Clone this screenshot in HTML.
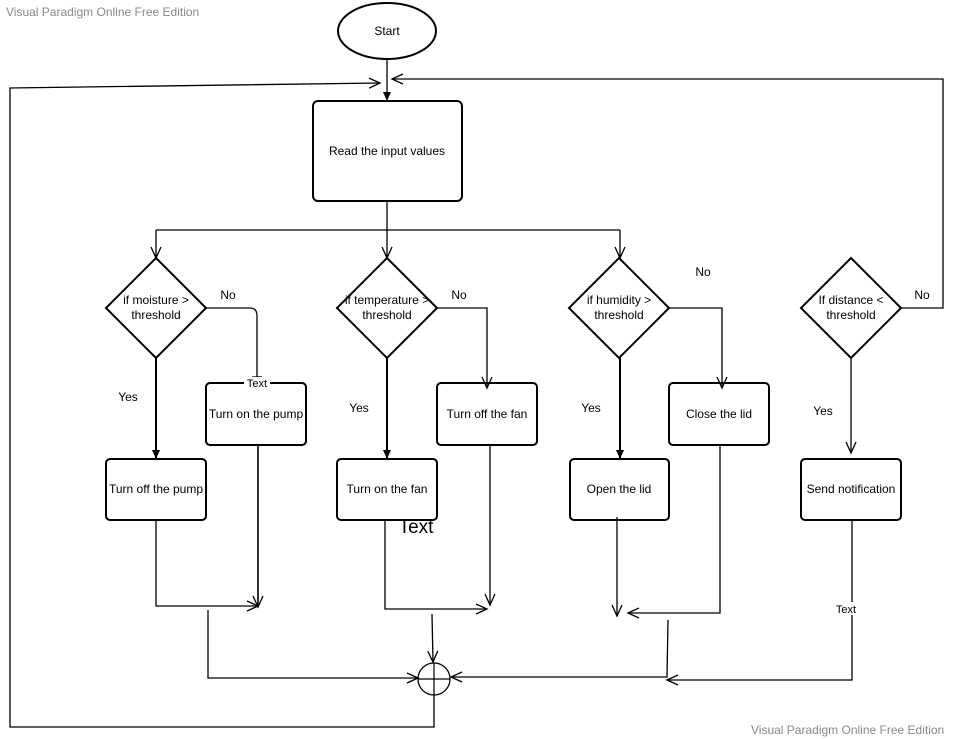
<!DOCTYPE html>
<html><head><meta charset="utf-8"><style>
html,body{margin:0;padding:0;background:#fff;}
svg{display:block;font-family:"Liberation Sans",Arial,sans-serif;}
</style></head><body>
<svg width="955" height="739" viewBox="0 0 955 739" xmlns="http://www.w3.org/2000/svg">
<defs>
<marker id="o" markerWidth="14" markerHeight="14" refX="12" refY="7" orient="auto" markerUnits="userSpaceOnUse">
<path d="M1,2 L12,7 L1,12" fill="none" stroke="#000" stroke-width="1.3"/>
</marker>
<marker id="f" markerWidth="12" markerHeight="12" refX="10" refY="6" orient="auto" markerUnits="userSpaceOnUse">
<path d="M1,2 L10,6 L1,10 Z" fill="#000"/>
</marker>
</defs>
<text x="6" y="16" font-size="12" fill="#888">Visual Paradigm Online Free Edition</text>
<text x="751" y="734" font-size="12" fill="#888">Visual Paradigm Online Free Edition</text>

<g fill="none" stroke="#000" stroke-width="2">
<ellipse cx="387" cy="31" rx="49" ry="28"/>
<rect x="313" y="101" width="149" height="100" rx="5"/>
<polygon points="156,258 206,308 156,358 106,308"/>
<polygon points="387,258 437,308 387,358 337,308"/>
<polygon points="619,258 669,308 619,358 569,308"/>
<polygon points="851,258 901,308 851,358 801,308"/>
<rect x="206" y="383" width="100" height="62" rx="4"/>
<rect x="106" y="459" width="100" height="61" rx="4"/>
<rect x="437" y="383" width="100" height="62" rx="4"/>
<rect x="337" y="459" width="100" height="61" rx="4"/>
<rect x="669" y="383" width="100" height="62" rx="4"/>
<rect x="570" y="459" width="99" height="61" rx="4"/>
<rect x="801" y="459" width="100" height="61" rx="4"/>
</g>
<circle cx="434" cy="679" r="16" fill="none" stroke="#000" stroke-width="1.3"/>
<path d="M434,663 V695 M418,679 H450" stroke="#000" stroke-width="1.2"/>

<g fill="none" stroke="#000" stroke-width="1.3">
<path d="M387,59 V101" marker-end="url(#f)"/>
<path d="M434,695 V727 H10 V88 L380,83" marker-end="url(#o)"/>
<path d="M901,308 H943 V79 H392" marker-end="url(#o)"/>
<path d="M387,201 V230"/>
<path d="M156,230 H620"/>
<path d="M156,230 V258" marker-end="url(#o)"/>
<path d="M387,230 V258" marker-end="url(#o)"/>
<path d="M620,230 V258" marker-end="url(#o)"/>
<path d="M206,308 H250 Q257,308 257,316 V377"/>
<path d="M252,377 H262"/>
<path d="M156,358 V459" stroke-width="2" marker-end="url(#f)"/>
<path d="M437,308 H487 V388" marker-end="url(#o)"/>
<path d="M387,358 V459" stroke-width="2" marker-end="url(#f)"/>
<path d="M669,308 H722 V388" marker-end="url(#o)"/>
<path d="M620,358 V459" stroke-width="2" marker-end="url(#f)"/>
<path d="M851,358 V453" marker-end="url(#o)"/>
<path d="M156,520 V606 H258" marker-end="url(#o)"/>
<path d="M258,445 V607" stroke-width="1.6" marker-end="url(#o)"/>
<path d="M208,610 V678 H418" marker-end="url(#o)"/>
<path d="M385,520 V609 H487" marker-end="url(#o)"/>
<path d="M490,445 V605" marker-end="url(#o)"/>
<path d="M432,614 L433,662" marker-end="url(#o)"/>
<path d="M617,517 V616" marker-end="url(#o)"/>
<path d="M720,445 V613 H628" marker-end="url(#o)"/>
<path d="M668,620 L667,677 H451" marker-end="url(#o)"/>
<path d="M852,520 V680 H667" marker-end="url(#o)"/>
</g>

<g font-size="12" fill="#000" text-anchor="middle">
<text x="387" y="35">Start</text>
<text x="387" y="155">Read the input values</text>
<text x="156" y="304">if moisture &gt;</text><text x="156" y="319">threshold</text>
<text x="387" y="304">if temperature &gt;</text><text x="387" y="319">threshold</text>
<text x="619" y="304">if humidity &gt;</text><text x="619" y="319">threshold</text>
<text x="851" y="304">If distance &lt;</text><text x="851" y="319">threshold</text>
<text x="256" y="418">Turn on the pump</text>
<text x="156" y="493">Turn off the pump</text>
<text x="487" y="418">Turn off the fan</text>
<text x="387" y="493">Turn on the fan</text>
<text x="719" y="418">Close the lid</text>
<text x="619" y="493">Open the lid</text>
<text x="851" y="493">Send notification</text>
<text x="128" y="401">Yes</text>
<text x="359" y="412">Yes</text>
<text x="591" y="412">Yes</text>
<text x="823" y="415">Yes</text>
<text x="228" y="299">No</text>
<text x="459" y="299">No</text>
<text x="703" y="276">No</text>
<text x="922" y="299">No</text>
</g>
<rect x="244" y="377" width="26" height="12" fill="#fff"/>
<text x="257" y="387" font-size="11" text-anchor="middle">Text</text>
<rect x="834" y="602" width="24" height="13" fill="#fff"/>
<text x="846" y="613" font-size="11" text-anchor="middle">Text</text>
<text x="416" y="533" font-size="19" text-anchor="middle">Text</text>
</svg>
</body></html>
